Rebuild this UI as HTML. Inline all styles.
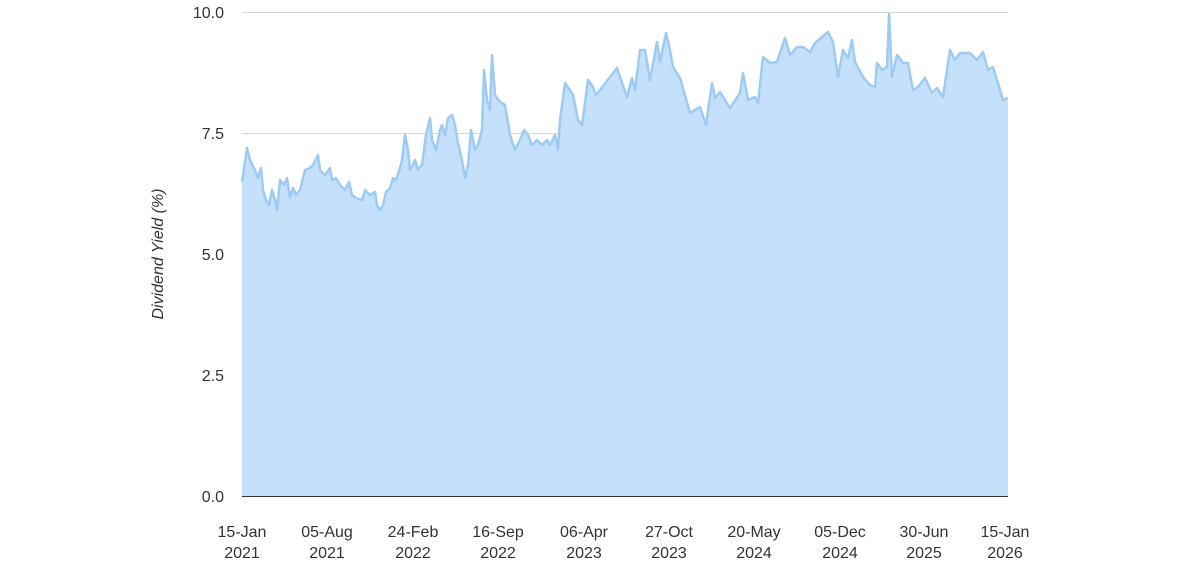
<!DOCTYPE html>
<html><head><meta charset="utf-8"><style>
body{margin:0;background:#fff}
svg text{font-family:"Liberation Sans",sans-serif;fill:#333}
</style></head><body>
<svg width="1200" height="566" xmlns="http://www.w3.org/2000/svg">
<g stroke="#d6d6d6" stroke-width="1">
<line x1="242" y1="12.5" x2="1008" y2="12.5"/>
<line x1="242" y1="133.5" x2="1008" y2="133.5"/>
<line x1="242" y1="254.5" x2="1008" y2="254.5"/>
<line x1="242" y1="375.5" x2="1008" y2="375.5"/>
</g>
<polygon fill="#c4e0fa" stroke="none" points="242,496 242,182 247,148 250,160 255,170 258,178 261,168 263,190 266,200 269,205 272,190 275,200 277,210 280,180 284,185 287,178 290,198 293,188 296,195 300,190 305,170 310,168 313,165 318,155 320,170 325,175 330,168 332,180 336,178 340,185 345,190 349,182 352,195 356,198 362,200 365,190 370,195 375,192 377,205 380,210 383,205 386,192 390,188 393,178 396,180 400,168 402,160 405,135 408,150 410,170 413,165 415,160 418,170 422,165 426,135 430,118 432,140 436,150 440,130 442,125 445,135 448,118 452,115 455,125 458,143 462,160 465,178 468,165 471,130 475,150 478,145 482,130 484,70 487,100 490,110 492,55 495,95 500,102 505,105 510,135 515,150 520,140 524,130 528,135 532,145 537,140 542,145 547,140 550,145 555,135 558,150 560,120 565,83 570,90 573,95 578,120 582,125 588,80 592,85 596,95 600,90 617,68 620,77 627,97 632,78 635,90 640,50 645,50 650,80 657,42 660,62 666,33 670,50 673,67 680,78 690,113 700,107 706,125 712,83 715,98 720,92 730,108 740,93 743,73 748,100 755,97 758,103 763,57 770,63 777,62 785,38 790,55 797,47 803,47 810,52 815,43 822,37 828,32 833,42 838,77 843,50 848,58 852,40 855,62 863,77 870,85 875,87 877,63 882,70 887,67 889,14 892,77 897,55 903,63 908,63 913,90 918,87 925,78 932,93 937,88 943,97 950,50 955,60 960,53 970,53 977,60 983,52 988,70 993,67 1000,90 1003,100 1008,98 1008,496"/>
<polyline fill="none" stroke="#9dcbf4" stroke-width="2.5" stroke-linejoin="round" points="242,182 247,148 250,160 255,170 258,178 261,168 263,190 266,200 269,205 272,190 275,200 277,210 280,180 284,185 287,178 290,198 293,188 296,195 300,190 305,170 310,168 313,165 318,155 320,170 325,175 330,168 332,180 336,178 340,185 345,190 349,182 352,195 356,198 362,200 365,190 370,195 375,192 377,205 380,210 383,205 386,192 390,188 393,178 396,180 400,168 402,160 405,135 408,150 410,170 413,165 415,160 418,170 422,165 426,135 430,118 432,140 436,150 440,130 442,125 445,135 448,118 452,115 455,125 458,143 462,160 465,178 468,165 471,130 475,150 478,145 482,130 484,70 487,100 490,110 492,55 495,95 500,102 505,105 510,135 515,150 520,140 524,130 528,135 532,145 537,140 542,145 547,140 550,145 555,135 558,150 560,120 565,83 570,90 573,95 578,120 582,125 588,80 592,85 596,95 600,90 617,68 620,77 627,97 632,78 635,90 640,50 645,50 650,80 657,42 660,62 666,33 670,50 673,67 680,78 690,113 700,107 706,125 712,83 715,98 720,92 730,108 740,93 743,73 748,100 755,97 758,103 763,57 770,63 777,62 785,38 790,55 797,47 803,47 810,52 815,43 822,37 828,32 833,42 838,77 843,50 848,58 852,40 855,62 863,77 870,85 875,87 877,63 882,70 887,67 889,14 892,77 897,55 903,63 908,63 913,90 918,87 925,78 932,93 937,88 943,97 950,50 955,60 960,53 970,53 977,60 983,52 988,70 993,67 1000,90 1003,100 1008,98"/>
<line x1="242" y1="496.5" x2="1008" y2="496.5" stroke="#333" stroke-width="1"/>
<g font-size="16" text-anchor="end">
<text x="224" y="18">10.0</text>
<text x="224" y="139">7.5</text>
<text x="224" y="260">5.0</text>
<text x="224" y="381">2.5</text>
<text x="224" y="502">0.0</text>
</g>
<text x="163" y="254" font-size="16" font-style="italic" text-anchor="middle" transform="rotate(-90 163 254)">Dividend Yield (%)</text>
<g font-size="16" text-anchor="middle">
<text x="242" y="537">15-Jan</text><text x="242" y="558">2021</text>
<text x="327" y="537">05-Aug</text><text x="327" y="558">2021</text>
<text x="413" y="537">24-Feb</text><text x="413" y="558">2022</text>
<text x="498" y="537">16-Sep</text><text x="498" y="558">2022</text>
<text x="584" y="537">06-Apr</text><text x="584" y="558">2023</text>
<text x="669" y="537">27-Oct</text><text x="669" y="558">2023</text>
<text x="754" y="537">20-May</text><text x="754" y="558">2024</text>
<text x="840" y="537">05-Dec</text><text x="840" y="558">2024</text>
<text x="924" y="537">30-Jun</text><text x="924" y="558">2025</text>
<text x="1005" y="537">15-Jan</text><text x="1005" y="558">2026</text>
</g>
</svg>
</body></html>
